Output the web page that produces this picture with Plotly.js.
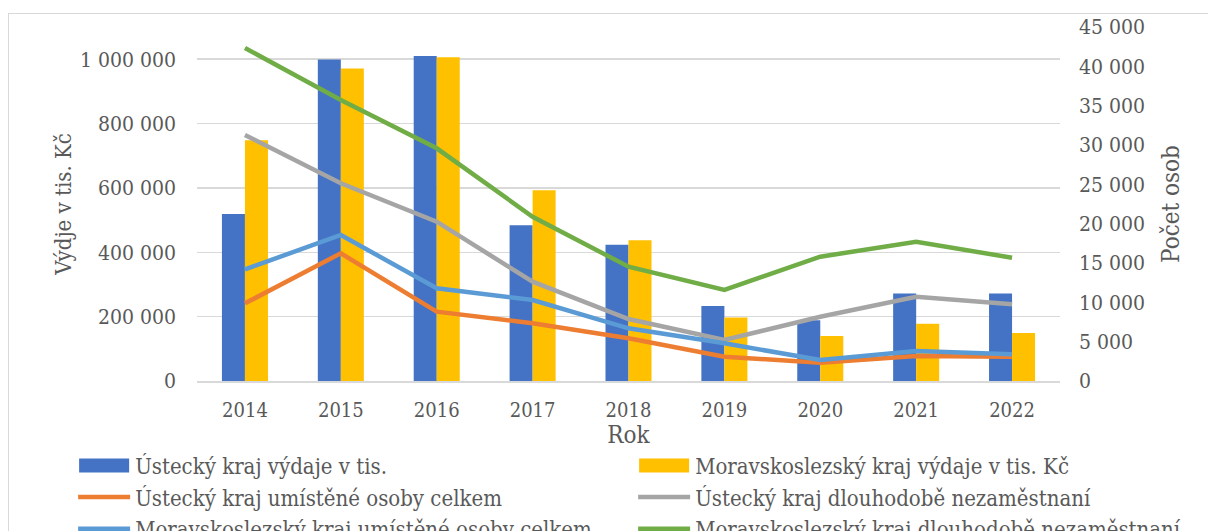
<!DOCTYPE html>
<html><head><meta charset="utf-8">
<script src="https://cdn.plot.ly/plotly-3.0.1.min.js"></script>
<style>
html,body{margin:0;padding:0;background:#fff;overflow:hidden;width:1208px;height:531px}
#frame{position:absolute;left:8px;top:13px;width:1300px;height:600px;border:1.5px solid #D9D9D9;pointer-events:none;z-index:5}
#chart{position:absolute;left:0;top:0;width:1208px;height:570px}
</style></head>
<body>
<div id="chart"></div>
<div id="frame"></div>
<script>
const years = ["2014","2015","2016","2017","2018","2019","2020","2021","2022"];
const ustiVydaje = [519000, 999000, 1010000, 484000, 423000, 233000, 189000, 272000, 272000];
const msVydaje   = [748000, 971000, 1006000, 593000, 437000, 197000, 140000, 178000, 149000];
const ustiUmistene = [9870, 16230, 8810, 7330, 5430, 3090, 2330, 3180, 3090];
const ustiDlouhodobe = [31270, 25130, 20250, 12620, 7880, 5210, 8170, 10710, 9750];
const msUmistene = [14190, 18560, 11780, 10300, 6700, 4790, 2670, 3810, 3390];
const msDlouhodobe = [42330, 35720, 29580, 20880, 14530, 11570, 15800, 17700, 15670];
const names = [
  "Ústecký kraj výdaje v tis.",
  "Moravskoslezský kraj výdaje v tis. Kč",
  "Ústecký kraj umístěné osoby celkem",
  "Ústecký kraj dlouhodobě nezaměstnaní",
  "Moravskoslezský kraj umístěné osoby celkem",
  "Moravskoslezský kraj dlouhodobě nezaměstnaní"
];
const font = "DejaVu Serif Condensed, DejaVu Serif";
const gray = "#595959";
const lw = 4.5;
const data = [
  {type:"bar", x:years, y:ustiVydaje, name:names[0], marker:{color:"#4472C4"}, yaxis:"y"},
  {type:"bar", x:years, y:msVydaje, name:names[1], marker:{color:"#FFC000"}, yaxis:"y"},
  {type:"scatter", mode:"lines", x:years, y:ustiUmistene, name:names[2], line:{color:"#ED7D31", width:lw}, yaxis:"y2"},
  {type:"scatter", mode:"lines", x:years, y:ustiDlouhodobe, name:names[3], line:{color:"#A5A5A5", width:lw}, yaxis:"y2"},
  {type:"scatter", mode:"lines", x:years, y:msUmistene, name:names[4], line:{color:"#5B9BD5", width:lw}, yaxis:"y2"},
  {type:"scatter", mode:"lines", x:years, y:msDlouhodobe, name:names[5], line:{color:"#70AD47", width:lw}, yaxis:"y2"}
];
const layout = {
  width:1208, height:570,
  margin:{l:197, r:20, t:27, b:189},
  paper_bgcolor:"#fff", plot_bgcolor:"#fff",
  separators:", ",
  font:{family:font, size:21, color:gray},
  barmode:"group", bargap:0.52, bargroupgap:0,
  showlegend:true,
  legend:{orientation:"h", x:-0.125, xanchor:"left", y:-0.18, yanchor:"top",
          entrywidth:493, itemwidth:52, font:{family:font, size:22, color:gray},
          tracegroupgap:0, traceorder:"normal"},
  xaxis:{type:"category", domain:[0, 863/991], showgrid:false, showline:true, linecolor:"#D9D9D9", linewidth:1.5,
         ticks:"", ticklabelstandoff:10, tickfont:{family:font, size:20, color:gray},
         title:{text:"Rok", font:{family:font, size:24, color:gray}, standoff:2}},
  yaxis:{range:[0,1100000], tickvals:[0,200000,400000,600000,800000,1000000], tickformat:",d",
         showgrid:true, gridcolor:"#D9D9D9", gridwidth:1.5, zeroline:false, ticks:"",
         ticklabelstandoff:20, tickfont:{family:font, size:21, color:gray},
         title:{text:"Výdje v tis. Kč", font:{family:font, size:22, color:gray}, standoff:2}},
  yaxis2:{overlaying:"y", side:"right", anchor:"x", range:[0,45000], dtick:5000, tickformat:",d",
          showgrid:false, zeroline:false, ticks:"", ticklabelstandoff:18,
          tickfont:{family:font, size:21, color:gray},
          title:{text:"Počet osob", font:{family:font, size:24, color:gray}, standoff:18}}
};
function widenBarLegend(gd){
  gd.querySelectorAll(".legend .traces").forEach(function(node){
    var d = node.__data__;
    if (d && d[0] && d[0].trace && d[0].trace.type === "bar") {
      node.querySelectorAll(".legendpoints path").forEach(function(p){
        p.setAttribute("d", "M25,7H-25V-7H25Z");
      });
    }
  });
}
const gdiv = document.getElementById("chart");
Plotly.newPlot(gdiv, data, layout, {displayModeBar:false, staticPlot:true}).then(function(gd){
  widenBarLegend(gd);
  gd.on("plotly_afterplot", function(){ widenBarLegend(gd); });
  setTimeout(function(){ widenBarLegend(gd); }, 50);
});
</script>
</body></html>
